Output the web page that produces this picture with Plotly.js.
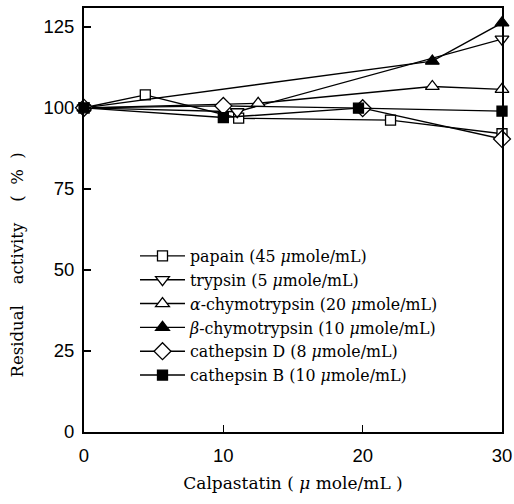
<!DOCTYPE html>
<html>
<head>
<meta charset="utf-8">
<script src="https://cdn.plot.ly/plotly-3.0.1.min.js"></script>
<style>html,body{margin:0;padding:0;background:#fff;}#chart{width:514px;height:504px;}</style>
</head>
<body>
<div id="chart"></div>
<script>
// Data
const papainX = [0, 4.4, 11.1, 22.0, 30];
const papainY = [100, 104.0, 96.8, 96.2, 92.0];
const trypsinX = [0, 11.0, 30];
const trypsinY = [100, 98.8, 121.2];
const alphaX = [0, 12.5, 25.0, 30];
const alphaY = [100, 101.4, 106.6, 105.7];
const betaX = [0, 25.0, 30];
const betaY = [100, 114.4, 126.2];
const cathDX = [0, 10.0, 20.0, 30];
const cathDY = [100, 100.6, 99.9, 90.4];
const cathBX = [0, 10.0, 19.7, 30];
const cathBY = [100, 97.0, 99.9, 99.0];
const seriesNames = [
  'papain (45 <i>μ</i>mole/mL)',
  'trypsin (5 <i>μ</i>mole/mL)',
  '<i>α</i>-chymotrypsin (20 <i>μ</i>mole/mL)',
  '<i>β</i>-chymotrypsin (10 <i>μ</i>mole/mL)',
  'cathepsin D (8 <i>μ</i>mole/mL)',
  'cathepsin B (10 <i>μ</i>mole/mL)'
];
const xTicks = [0, 10, 20, 30];
const yTicks = [0, 25, 50, 75, 100, 125];

const serif = 'DejaVu Serif, serif';
const sans = 'Liberation Sans, Arial, sans-serif';

function tr(x, y, name, symbol, size, filled, grp) {
  return {
    x: x, y: y, name: name, type: 'scatter', mode: 'lines+markers',
    legendgroup: grp, cliponaxis: false,
    line: {color: '#000', width: 1.4},
    marker: {symbol: symbol, size: size, color: filled ? '#000' : '#fff',
             line: {color: '#000', width: 1.3}}
  };
}
const data = [
  tr(papainX, papainY, seriesNames[0], 'square', 10, false, 'a'),
  tr(trypsinX, trypsinY, seriesNames[1], 'triangle-down', 12, false, 'b'),
  tr(alphaX, alphaY, seriesNames[2], 'triangle-up', 12, false, 'c'),
  tr(betaX, betaY, seriesNames[3], 'triangle-up', 12, true, 'd'),
  tr(cathDX, cathDY, seriesNames[4], 'diamond', 13, false, 'e'),
  tr(cathBX, cathBY, seriesNames[5], 'square', 10, true, 'f')
];

const layout = {
  width: 514, height: 504,
  margin: {l: 84, r: 12, t: 8, b: 72},
  paper_bgcolor: '#fff', plot_bgcolor: '#fff',
  showlegend: true,
  legend: {
    x: 0.122, xanchor: 'left', y: 0.455, yanchor: 'top',
    bgcolor: 'rgba(0,0,0,0)', borderwidth: 0,
    font: {family: serif, size: 15.8, color: '#000'},
    itemwidth: 45, tracegroupgap: 0.3, traceorder: 'grouped'
  },
  xaxis: {
    range: [0, 30], tickvals: xTicks, ticks: 'inside', ticklen: 7, tickwidth: 1.5,
    tickcolor: '#000', showgrid: false, zeroline: false,
    showline: true, linecolor: '#000', linewidth: 2, mirror: true,
    ticklabelstandoff: 6,
    tickfont: {family: sans, size: 18.5, color: '#000'},
    title: {text: 'Calpastatin ( <i>μ</i> mole/mL )', font: {family: serif, size: 17, color: '#000'}, standoff: 12}
  },
  yaxis: {
    range: [0, 130.8], tickvals: yTicks, ticks: 'inside', ticklen: 7, tickwidth: 1.5,
    tickcolor: '#000', showgrid: false, zeroline: false,
    showline: true, linecolor: '#000', linewidth: 2, mirror: true,
    ticklabelstandoff: 4,
    tickfont: {family: sans, size: 18.5, color: '#000'}
  },
  annotations: [{
    text: 'Residual    activity    (  %  )', textangle: -90,
    xref: 'paper', yref: 'paper', x: -0.158, y: 0.395,
    xanchor: 'center', yanchor: 'middle', showarrow: false,
    font: {family: serif, size: 16.5, color: '#000'}
  }]
};
Plotly.newPlot('chart', data, layout, {displayModeBar: false, staticPlot: true});
</script>
</body>
</html>
